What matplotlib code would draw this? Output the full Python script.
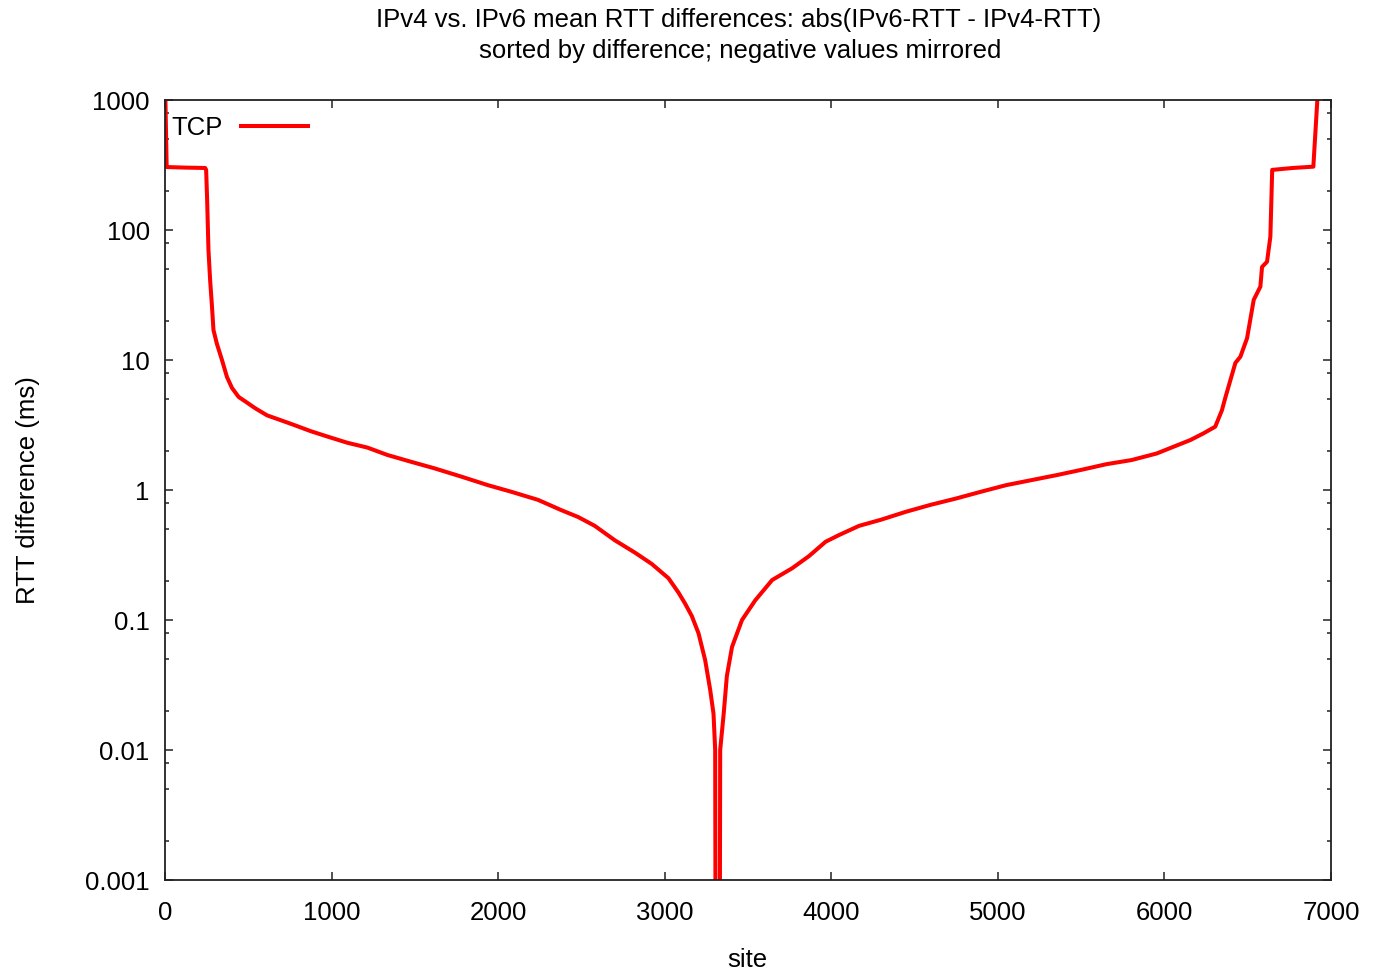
import numpy as np
import matplotlib
matplotlib.use("Agg")
import matplotlib.pyplot as plt
from matplotlib.ticker import LogLocator, FixedLocator, FuncFormatter, NullFormatter

# values (site index, RTT difference in ms)
# left half: negative differences (mirrored), right half: positive differences
neg_sites = [0, 10, 120, 241, 247, 253, 261, 271, 281, 291, 311, 342, 372, 402,
             442, 482, 542, 613, 693, 773, 873, 974, 1094, 1215, 1335, 1476,
             1616, 1777, 1938, 2078, 2239, 2379, 2480, 2580, 2701, 2821, 2922,
             3022, 3082, 3122, 3163, 3203, 3243, 3273, 3293, 3303, 3306]
neg_vals = [1500, 305, 302, 300, 290, 170, 70, 41, 27, 17, 13.4, 10, 7.4, 6.1,
            5.2, 4.8, 4.25, 3.75, 3.45, 3.17, 2.84, 2.58, 2.31, 2.12, 1.86, 1.65,
            1.47, 1.27, 1.09, 0.97, 0.84, 0.70, 0.62, 0.53, 0.41, 0.33, 0.27,
            0.21, 0.163, 0.134, 0.107, 0.079, 0.049, 0.029, 0.019, 0.01, 0.0001]

pos_sites = [3330, 3333, 3354, 3363, 3373, 3404, 3464, 3544, 3645, 3765, 3866,
             3966, 4046, 4167, 4297, 4448, 4598, 4749, 4899, 5050, 5200, 5351,
             5502, 5652, 5803, 5954, 6054, 6155, 6235, 6305, 6345, 6365, 6426,
             6456, 6496, 6536, 6576, 6586, 6616, 6636, 6647, 6770, 6894, 6918,
             6922]
pos_vals = [0.0001, 0.01, 0.019, 0.026, 0.037, 0.062, 0.1, 0.142, 0.203, 0.25,
            0.31, 0.40, 0.45, 0.53, 0.59, 0.68, 0.77, 0.86, 0.97, 1.09, 1.19,
            1.30, 1.43, 1.58, 1.70, 1.91, 2.15, 2.42, 2.73, 3.07, 4.1, 5.1, 9.5,
            10.6, 14.7, 29, 36.7, 52, 57, 89, 290, 300, 307, 1000, 1500]

y_ticks = [0.001, 0.01, 0.1, 1, 10, 100, 1000]
x_ticks = [0, 1000, 2000, 3000, 4000, 5000, 6000, 7000]

sites = neg_sites + pos_sites
vals = neg_vals + pos_vals

plt.rcParams['font.family'] = ['Liberation Sans', 'DejaVu Sans']
fs = 18.5

fig = plt.figure(figsize=(13.77, 9.71), dpi=100)
ax = fig.add_axes([165/1377, 91/971, (1331-165)/1377, (880-100)/971])

ax.plot(sites, vals, color='#ff0000', lw=2.9, label='TCP', solid_joinstyle='round')

ax.set_yscale('log')
ax.set_xlim(0, 7000)
ax.set_ylim(0.001, 1000)

ax.xaxis.set_major_locator(FixedLocator(x_ticks))
ax.yaxis.set_major_locator(FixedLocator(y_ticks))
ax.yaxis.set_major_formatter(FuncFormatter(lambda v, p: '%g' % v))
ax.yaxis.set_minor_locator(LogLocator(base=10, subs=[2, 5, 8]))
ax.yaxis.set_minor_formatter(NullFormatter())

ax.tick_params(which='both', direction='in', top=True, right=True,
               labelsize=fs, color='#333333', width=1.2)
ax.tick_params(which='major', length=6)
ax.tick_params(which='minor', length=3)
ax.tick_params(axis='y', pad=11)
ax.tick_params(axis='x', pad=15)
for s in ax.spines.values():
    s.set_linewidth(1.3)
    s.set_color('#222222')

fig.text(739/1377, 1 - 20/971, 'IPv4 vs. IPv6 mean RTT differences: abs(IPv6-RTT - IPv4-RTT)',
         ha='center', va='center', fontsize=fs)
fig.text(740/1377, 1 - 51/971, 'sorted by difference; negative values mirrored',
         ha='center', va='center', fontsize=fs)
fig.text(747/1377, 1 - 960/971, 'site', ha='center', va='center', fontsize=fs)
fig.text(28/1377, 1 - 490/971, 'RTT difference (ms)', ha='center', va='center',
         rotation=90, fontsize=fs)

ax.legend(loc='upper left', bbox_to_anchor=(-0.003, 0.993), frameon=False,
          markerfirst=False, fontsize=fs, handlelength=2.6, handletextpad=0.7,
          borderaxespad=0.15, borderpad=0.25)

fig.savefig('out.png', dpi=100)
